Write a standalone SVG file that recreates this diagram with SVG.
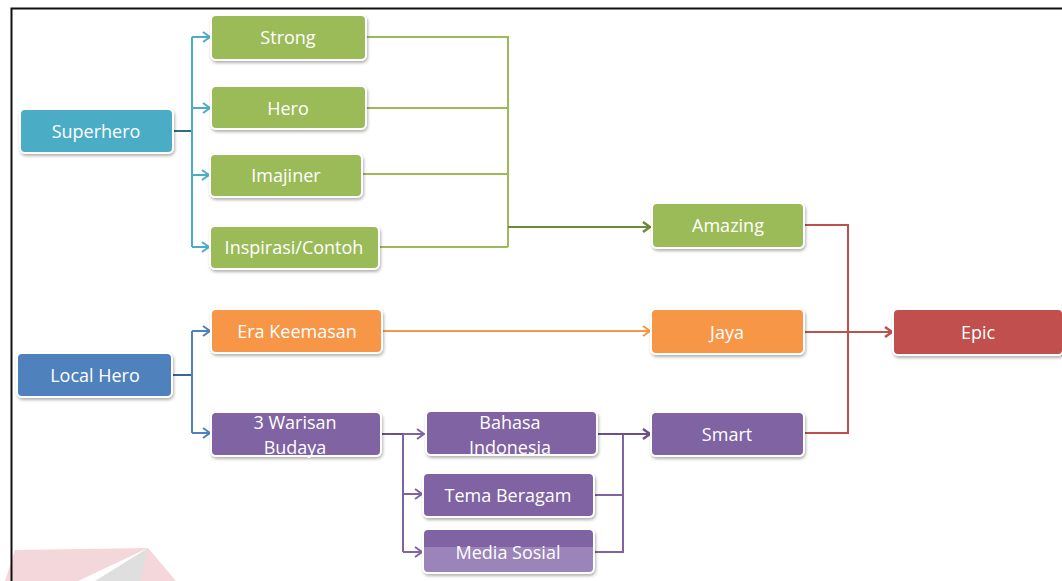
<svg xmlns="http://www.w3.org/2000/svg" width="1062" height="581" viewBox="0 0 1062 581">
  <defs>
    <filter id="sh" x="-10%" y="-20%" width="125%" height="150%">
      <feDropShadow dx="1" dy="2" stdDeviation="1.5" flood-color="#000" flood-opacity="0.3"/>
    </filter>
    <linearGradient id="mediaGrad" x1="0" y1="0" x2="0" y2="1">
      <stop offset="0" stop-color="#8064A2"/>
      <stop offset="0.42" stop-color="#8064A2"/>
      <stop offset="0.42" stop-color="#9A84B9"/>
      <stop offset="1" stop-color="#9A84B9"/>
    </linearGradient>
    <marker id="aTeal" markerUnits="userSpaceOnUse" markerWidth="12" markerHeight="12" refX="9" refY="6" orient="auto">
      <path d="M2,1 L9,6 L2,11" fill="none" stroke="#4BACC6" stroke-width="2"/>
    </marker>
    <marker id="aBlue" markerUnits="userSpaceOnUse" markerWidth="12" markerHeight="12" refX="9" refY="6" orient="auto">
      <path d="M2,1 L9,6 L2,11" fill="none" stroke="#4F81BD" stroke-width="2"/>
    </marker>
    <marker id="aGreen" markerUnits="userSpaceOnUse" markerWidth="12" markerHeight="12" refX="9" refY="6" orient="auto">
      <path d="M2,1 L9,6 L2,11" fill="none" stroke="#6B8A35" stroke-width="2.5"/>
    </marker>
    <marker id="aOrange" markerUnits="userSpaceOnUse" markerWidth="12" markerHeight="12" refX="9" refY="6" orient="auto">
      <path d="M2,1 L9,6 L2,11" fill="none" stroke="#F79646" stroke-width="2"/>
    </marker>
    <marker id="aPurple" markerUnits="userSpaceOnUse" markerWidth="12" markerHeight="12" refX="9" refY="6" orient="auto">
      <path d="M2,1 L9,6 L2,11" fill="none" stroke="#8064A2" stroke-width="2"/>
    </marker>
    <marker id="aPurpleD" markerUnits="userSpaceOnUse" markerWidth="12" markerHeight="12" refX="9" refY="6" orient="auto">
      <path d="M2,1 L9,6 L2,11" fill="none" stroke="#6A5289" stroke-width="2.5"/>
    </marker>
    <marker id="aRed" markerUnits="userSpaceOnUse" markerWidth="12" markerHeight="12" refX="9" refY="6" orient="auto">
      <path d="M2,1 L9,6 L2,11" fill="none" stroke="#C0504D" stroke-width="2.5"/>
    </marker>
  </defs>
  <style>
    .box { stroke: #FFFFFF; stroke-width: 2; filter: url(#sh); }
    .teal { fill: #4BACC6; }
    .blue { fill: #4F81BD; }
    .green { fill: #9BBB59; }
    .orange { fill: #F79646; }
    .purple { fill: #8064A2; }
    .red { fill: #C0504D; }
    .lbl { font-family: "Open Sans", "Noto Sans", sans-serif; font-size: 18px; fill: #FFFFFF; text-anchor: middle; dominant-baseline: central; }
    .c { fill: none; stroke-width: 2; }
  </style>

  <rect width="1062" height="581" fill="#FFFFFF"/>

  <!-- watermark (faint) -->
  <g id="watermark" opacity="0.9">
    <polygon points="15,550 148,548 176,581 5,581" fill="#F3D3D6"/>
    <polygon points="148,548 95,581 140,581" fill="#DCDCDC"/>
    <polygon points="148,548 78,581 95,581" fill="#FFFFFF"/>
  </g>

  <!-- frame -->
  <path d="M11.5,581 L11.5,8.5 L1062,8.5" fill="none" stroke="#111111" stroke-width="2"/>

  <!-- connectors -->
  <g id="connectors">
    <!-- Superhero -->
    <path class="c" d="M173,131 L192,131" stroke="#2E6E80" stroke-width="2.5"/>
    <path class="c" d="M192,37 L192,247" stroke="#4BACC6"/>
    <path class="c" d="M192,37 L210,37" stroke="#4BACC6" marker-end="url(#aTeal)"/>
    <path class="c" d="M192,108 L210,108" stroke="#4BACC6" marker-end="url(#aTeal)"/>
    <path class="c" d="M192,175 L209,175" stroke="#4BACC6" marker-end="url(#aTeal)"/>
    <path class="c" d="M192,247 L209,247" stroke="#4BACC6" marker-end="url(#aTeal)"/>
    <!-- green to Amazing -->
    <path class="c" d="M366,37 L508,37 L508,247" stroke="#9BBB59"/>
    <path class="c" d="M366,108 L508,108" stroke="#9BBB59"/>
    <path class="c" d="M362,174 L508,174" stroke="#9BBB59"/>
    <path class="c" d="M379,247 L508,247" stroke="#9BBB59"/>
    <path class="c" d="M508,227 L650,227" stroke="#6B8A35" stroke-width="2.5" marker-end="url(#aGreen)"/>
    <!-- Local Hero -->
    <path class="c" d="M172,375 L192,375" stroke="#3C6593" stroke-width="2.5"/>
    <path class="c" d="M192,331 L192,433" stroke="#4F81BD"/>
    <path class="c" d="M192,331 L210,331" stroke="#4F81BD" marker-end="url(#aBlue)"/>
    <path class="c" d="M192,433 L210,433" stroke="#4F81BD" marker-end="url(#aBlue)"/>
    <!-- Era Keemasan to Jaya -->
    <path class="c" d="M382,331 L650,331" stroke="#F79646" marker-end="url(#aOrange)"/>
    <!-- 3 Warisan Budaya -->
    <path class="c" d="M381,434 L403,434" stroke="#6A5289" stroke-width="2.5"/>
    <path class="c" d="M403,434 L403,552" stroke="#8064A2"/>
    <path class="c" d="M403,434 L424,434" stroke="#8064A2" marker-end="url(#aPurple)"/>
    <path class="c" d="M403,494 L422,494" stroke="#8064A2" marker-end="url(#aPurple)"/>
    <path class="c" d="M403,552 L422,552" stroke="#8064A2" marker-end="url(#aPurple)"/>
    <!-- to Smart -->
    <path class="c" d="M594,495 L623,495" stroke="#8064A2"/>
    <path class="c" d="M594,552 L623,552 L623,434" stroke="#8064A2"/>
    <path class="c" d="M597,434 L650,434" stroke="#6A5289" stroke-width="2.5" marker-end="url(#aPurpleD)"/>
    <!-- to Epic -->
    <path class="c" d="M804,225 L848,225 L848,433 L805,433" stroke="#C0504D"/>
    <path class="c" d="M805,332 L892,332" stroke="#C0504D" stroke-width="2.5" marker-end="url(#aRed)"/>
  </g>

  <!-- nodes -->
  <g id="superhero"><rect class="box teal" x="20" y="109" width="153" height="44" rx="5"/><text class="lbl" x="96" y="131">Superhero</text></g>
  <g id="strong"><rect class="box green" x="211" y="15" width="155" height="45" rx="5"/><text class="lbl" x="288" y="37">Strong</text></g>
  <g id="hero"><rect class="box green" x="211" y="86" width="155" height="43" rx="5"/><text class="lbl" x="288" y="108">Hero</text></g>
  <g id="imajiner"><rect class="box green" x="210" y="154" width="152" height="43" rx="5"/><text class="lbl" x="286" y="175">Imajiner</text></g>
  <g id="inspirasi"><rect class="box green" x="210" y="226" width="169" height="43" rx="5"/><text class="lbl" x="294" y="247">Inspirasi/Contoh</text></g>
  <g id="amazing"><rect class="box green" x="652" y="203" width="152" height="45" rx="5"/><text class="lbl" x="728" y="225">Amazing</text></g>
  <g id="localhero"><rect class="box blue" x="17" y="353" width="155" height="44" rx="5"/><text class="lbl" x="95" y="375">Local Hero</text></g>
  <g id="era"><rect class="box orange" x="211" y="309" width="171" height="44" rx="5"/><text class="lbl" x="297" y="331">Era Keemasan</text></g>
  <g id="jaya"><rect class="box orange" x="651" y="309" width="153" height="45" rx="5"/><text class="lbl" x="727" y="332">Jaya</text></g>
  <g id="warisan"><rect class="box purple" x="211" y="412" width="170" height="44" rx="5"/><text class="lbl" x="295" y="422">3 Warisan</text><text class="lbl" x="295" y="447">Budaya</text></g>
  <g id="bahasa"><rect class="box purple" x="426" y="411" width="171" height="44" rx="5"/><text class="lbl" x="510" y="422">Bahasa</text><text class="lbl" x="510" y="447">Indonesia</text></g>
  <g id="tema"><rect class="box purple" x="423" y="473" width="171" height="44" rx="5"/><text class="lbl" x="508" y="495">Tema Beragam</text></g>
  <g id="media"><rect class="box" x="423" y="529" width="171" height="44" rx="5" fill="url(#mediaGrad)"/><text class="lbl" x="508" y="552">Media Sosial</text></g>
  <g id="smart"><rect class="box purple" x="651" y="412" width="153" height="44" rx="5"/><text class="lbl" x="727" y="434">Smart</text></g>
  <g id="epic"><rect class="box red" x="893" y="309" width="170" height="46" rx="5"/><text class="lbl" x="978" y="332">Epic</text></g>
</svg>
